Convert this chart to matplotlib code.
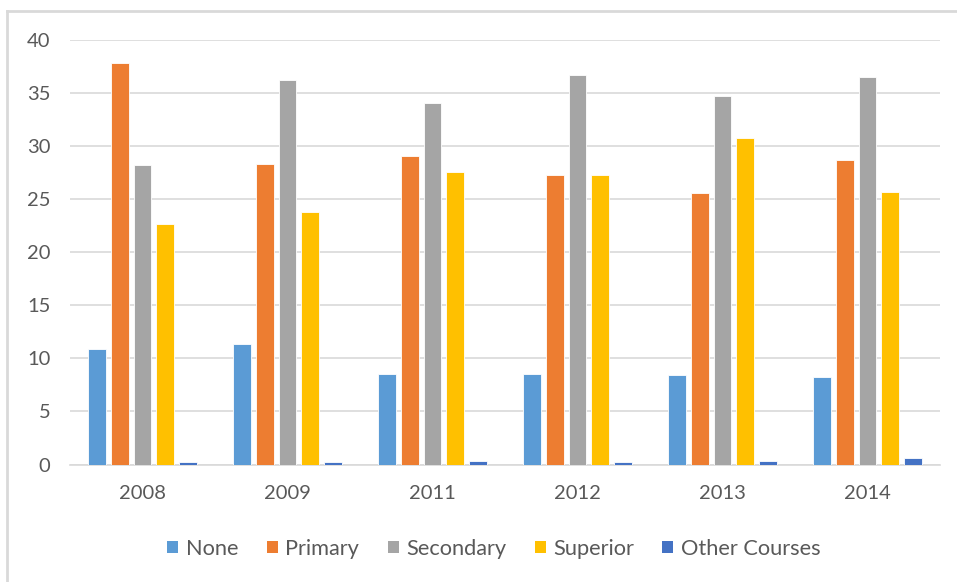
import matplotlib
matplotlib.use("Agg")
import matplotlib.pyplot as plt
import numpy as np
from matplotlib.lines import Line2D
from matplotlib.patches import Patch

years = ["2008", "2009", "2011", "2012", "2013", "2014"]
series_names = ["None", "Primary", "Secondary", "Superior", "Other Courses"]
none_vals = [10.9, 11.35, 8.55, 8.55, 8.4, 8.2]
primary_vals = [37.8, 28.35, 29.1, 27.3, 25.6, 28.7]
secondary_vals = [28.2, 36.2, 34.1, 36.7, 34.7, 36.55]
superior_vals = [22.7, 23.8, 27.6, 27.3, 30.8, 25.7]
other_vals = [0.2, 0.2, 0.35, 0.2, 0.35, 0.6]
colors = ["#5B9BD5", "#ED7D31", "#A5A5A5", "#FFC000", "#4472C4"]

W, H = 957, 582
fig = plt.figure(figsize=(W / 100, H / 100), dpi=100)
plt.rcParams['font.family'] = ['Lato', 'DejaVu Sans']
ax = fig.add_axes([70 / W, 1 - 464.5 / H, 870 / W, 424.5 / H])

all_vals = [none_vals, primary_vals, secondary_vals, superior_vals, other_vals]
x = np.arange(len(years))
pitch = 0.156
width = 0.124
for i, (vals, c) in enumerate(zip(all_vals, colors)):
    ax.bar(x + (i - 2) * pitch, vals, width, color=c, edgecolor="white",
           linewidth=0.6, label=series_names[i], zorder=3)

ax.set_xlim(-0.5, len(years) - 0.5)
ax.set_ylim(0, 40)
ax.set_yticks(range(0, 41, 5))
ax.set_xticks(x)
ax.set_xticklabels(years)
ax.grid(axis="y", color="#D9D9D9", linewidth=1.2, zorder=0)
for s in ["top", "right", "left"]:
    ax.spines[s].set_visible(False)
ax.spines["bottom"].set_color("#D9D9D9")
ax.spines["bottom"].set_linewidth(1.2)
ax.tick_params(axis="both", length=0, labelsize=14.5, labelcolor="#595959")
ax.tick_params(axis="x", pad=15)
ax.tick_params(axis="y", pad=14)

handles = [Patch(facecolor=c, edgecolor="none") for c in colors]
fig.legend(handles, series_names, loc="center", bbox_to_anchor=(494 / W, 1 - 549 / H),
           ncol=5, frameon=False, fontsize=15.7, labelcolor="#595959",
           handlelength=0.5, handleheight=0.5, handletextpad=0.35, columnspacing=1.3)

# chart border
fig.add_artist(Line2D([7 / W, 7 / W], [0, 1 - 11 / H], transform=fig.transFigure,
                      color="#D9D9D9", linewidth=2))
fig.add_artist(Line2D([7 / W, 1], [1 - 11 / H, 1 - 11 / H], transform=fig.transFigure,
                      color="#D9D9D9", linewidth=2))

fig.savefig("out.png", dpi=100)
